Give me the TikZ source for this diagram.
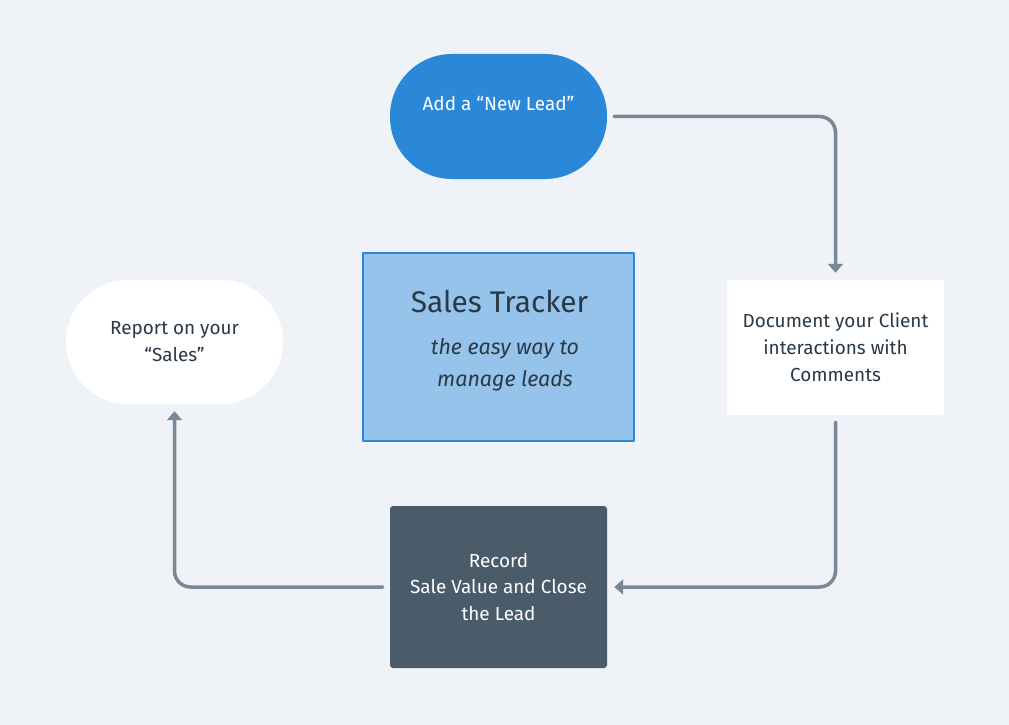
\documentclass[tikz,border=0pt]{standalone}
\usepackage{fontspec}
\setmainfont{Fira Sans}
\usetikzlibrary{arrows.meta,positioning}

\definecolor{bgcol}{HTML}{EFF2F6}
\definecolor{leadblue}{HTML}{2B88D8}
\definecolor{paleblue}{HTML}{96C3EC}
\definecolor{slate}{HTML}{4A5B6A}
\definecolor{flowgray}{HTML}{7A8896}
\definecolor{inkdark}{HTML}{2A3946}

\tikzset{
  stepfont/.style={font=\fontsize{19}{27}\selectfont},
  pill/.style={rectangle,rounded corners=62bp,minimum width=217bp,minimum height=125bp,
    align=center,stepfont,inner sep=0pt},
  card/.style={rectangle,rounded corners=3bp,minimum width=217bp,align=center,stepfont,inner sep=0pt},
  flow/.style={draw=flowgray,line width=3.5bp,rounded corners=16bp,
    -{Triangle[width=15bp,length=9bp]},shorten <=7bp,shorten >=7bp}
}

\begin{document}
\begin{tikzpicture}[x=1bp,y=-1bp,line cap=round,line join=round]
\useasboundingbox[fill=bgcol] (0,0) rectangle (1009,725);

% the four steps
\node[pill,fill=leadblue,text=white] (lead) at (498.5,116.5) {Add a “New Lead”\\\mbox{}};
\node[card,fill=white,text=inkdark,minimum height=135bp] (doc) at (835.5,347.5)
  {Document your Client\\interactions with\\Comments};
\node[card,fill=slate,text=white,minimum height=162bp] (record) at (498.5,587)
  {Record\\Sale Value and Close\\the Lead};
\node[pill,fill=white,text=inkdark,minimum height=124bp] (report) at (174.5,342)
  {Report on your\\“Sales”};

% title box
\node[rectangle,draw=leadblue,line width=2bp,fill=paleblue,minimum width=271bp,minimum height=188bp] (tracker) at (498.5,347) {};
\node[text=inkdark,font=\fontsize{30}{36}\selectfont] (title) at (499.5,301) {Sales Tracker};
\node[text=inkdark,align=center,font=\fontsize{21.5}{32}\selectfont\itshape] (motto) at (505,365)
  {the easy way to\\manage leads};

% connectors
\draw[flow] (lead.east) -| (doc.north);
\draw[flow] (doc.south) |- (record.east);
\draw[flow] (record.west) -| (report.south);

\end{tikzpicture}
\end{document}
